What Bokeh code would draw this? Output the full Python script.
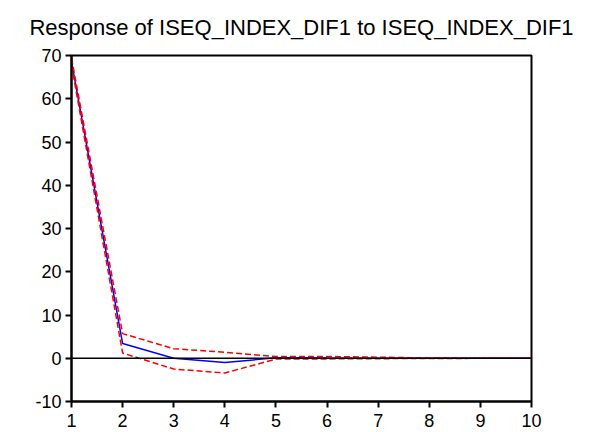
from bokeh.plotting import figure
from bokeh.models import Range1d, FixedTicker, Span, Title
from bokeh.embed import file_html
from bokeh.resources import INLINE

periods = [1, 2, 3, 4, 5, 6, 7, 8, 9, 10]
response = [68.6, 3.4, 0.0, -1.0, 0.1, 0.05, 0.02, 0.0, 0.0, 0.0]
upper = [69.4, 5.7, 2.2, 1.4, 0.4, 0.4, 0.25, 0.05, 0.02, 0.01]
lower = [67.8, 1.2, -2.5, -3.4, -0.2, -0.15, -0.1, -0.05, -0.02, -0.01]
x_ticks = list(range(1, 11))
y_ticks = list(range(-10, 71, 10))
title_text = "Response of ISEQ_INDEX_DIF1 to ISEQ_INDEX_DIF1"

FONT = "Liberation Sans"

p = figure(width=600, height=430, output_backend="svg", toolbar_location=None,
           x_range=Range1d(1, 10), y_range=Range1d(-10, 70),
           min_border_left=71, min_border_right=69, min_border_top=55, min_border_bottom=29)

p.title = Title(text=title_text, align="center", text_font=FONT, text_font_size="22px",
                text_font_style="normal", text_color="#000000", standoff=28,
                vertical_align="top")

p.xgrid.visible = False
p.ygrid.visible = False
p.background_fill_color = "white"
p.border_fill_color = "white"
p.outline_line_color = "black"
p.outline_line_width = 2

for ax in (p.xaxis[0], p.yaxis[0]):
    ax.axis_line_width = 2
    ax.axis_line_color = "black"
    ax.major_tick_line_width = 2
    ax.major_tick_line_color = "black"
    ax.major_tick_out = 6
    ax.major_tick_in = 0
    ax.minor_tick_line_color = None
    ax.major_label_text_font = FONT
    ax.major_label_text_font_size = "18px"
    ax.major_label_text_color = "#000000"
    ax.major_label_standoff = 4

p.xaxis[0].ticker = FixedTicker(ticks=x_ticks)
p.yaxis[0].ticker = FixedTicker(ticks=y_ticks)
p.yaxis[0].major_label_overrides = {t: str(t) for t in y_ticks}
p.xaxis[0].major_label_standoff = 6

p.add_layout(Span(location=0, dimension="width", line_color="black", line_width=1.5))

p.line(periods, response, line_color="#0000ff", line_width=1.5)
p.line(periods, upper, line_color="#ff0000", line_width=1.5, line_dash="6 3")
p.line(periods, lower, line_color="#ff0000", line_width=1.5, line_dash="6 3")

open("out.html", "w").write(file_html(p, INLINE))
